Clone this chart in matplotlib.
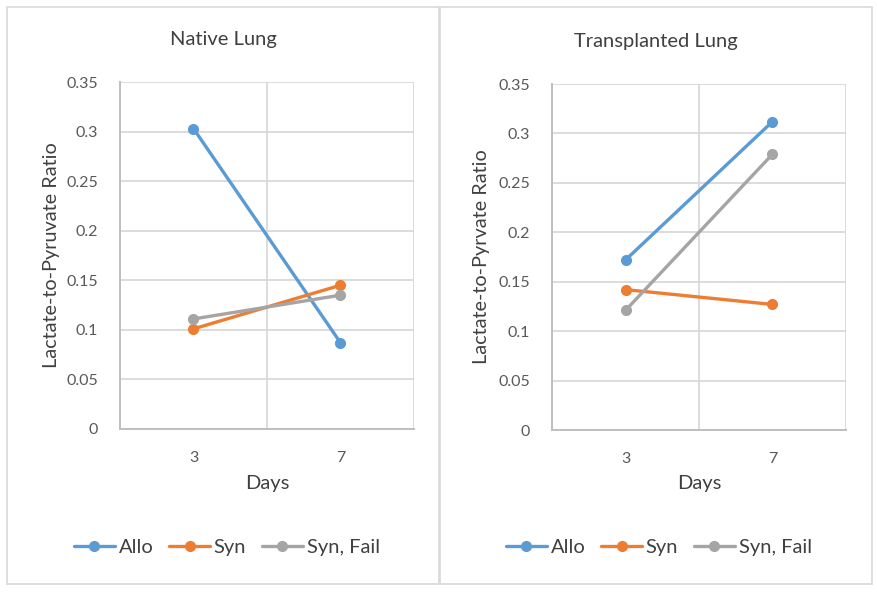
import matplotlib
matplotlib.use("Agg")
import matplotlib.pyplot as plt
from matplotlib.patches import Rectangle

plt.rcParams['font.family'] = ['Lato', 'DejaVu Sans']

days = ["3", "7"]
series_names = ["Allo", "Syn", "Syn, Fail"]
native_allo = [0.303, 0.087]
native_syn = [0.101, 0.145]
native_synfail = [0.111, 0.135]
trans_allo = [0.172, 0.312]
trans_syn = [0.142, 0.127]
trans_synfail = [0.121, 0.279]
y_ticks = [0, 0.05, 0.1, 0.15, 0.2, 0.25, 0.3, 0.35]
y_tick_labels = ["0", "0.05", "0.1", "0.15", "0.2", "0.25", "0.3", "0.35"]

colors = ["#5B9BD5", "#ED7D31", "#A5A5A5"]
W, H = 878, 592
fig = plt.figure(figsize=(W / 100, H / 100), dpi=100)

def px_axes(x0, y0, x1, y1):
    return fig.add_axes([x0 / W, (H - y1) / H, (x1 - x0) / W, (y1 - y0) / H])

# panel borders
for (bx0, bx1) in [(7, 439), (440, 872)]:
    fig.patches.append(Rectangle((bx0 / W, (H - 584) / H), (bx1 - bx0) / W, (584 - 7) / H,
                                 transform=fig.transFigure, fill=False,
                                 edgecolor="#D9D9D9", linewidth=1.2))

panels = [
    dict(box=(120, 82, 414, 429), title="Native Lung", tx=223, ty=40,
         ylabel="Lactate-to-Pyruvate Ratio", ylx=52, lx=227,
         data=[native_allo, native_syn, native_synfail]),
    dict(box=(552, 84, 846, 430), title="Transplanted Lung", tx=656, ty=42,
         ylabel="Lactate-to-Pyrvate Ratio", ylx=482, lx=659,
         data=[trans_allo, trans_syn, trans_synfail]),
]

textc = "#404040"
tickc = "#595959"
for p in panels:
    ax = px_axes(*p["box"])
    xs = list(range(1, len(days) + 1))
    for name, vals, c in zip(series_names, p["data"], colors):
        ax.plot(xs, vals, color=c, linewidth=2.4, marker="o", markersize=7,
                label=name, solid_capstyle="round", zorder=3)
    ax.set_xlim(0.5, len(days) + 0.5)
    ax.set_ylim(0, 0.35)
    ax.set_yticks(y_ticks)
    ax.set_yticklabels(y_tick_labels)
    ax.set_xticks(xs)
    ax.set_xticklabels(days)
    ax.set_xticks([0.5, 1.5, 2.5], minor=True)
    ax.grid(True, axis="y", color="#D9D9D9", linewidth=1.3, zorder=0)
    ax.grid(True, axis="x", which="minor", color="#D9D9D9", linewidth=1.3, zorder=0)
    ax.grid(False, axis="x", which="major")
    ax.tick_params(axis="both", which="both", length=0, labelsize=11.5, labelcolor=tickc)
    ax.tick_params(axis="y", pad=16)
    ax.tick_params(axis="x", pad=16)
    for s in ["top", "right"]:
        ax.spines[s].set_visible(False)
    for s in ["left", "bottom"]:
        ax.spines[s].set_color("#BFBFBF")
        ax.spines[s].set_linewidth(1.4)
    ax.set_axisbelow(True)
    fig.text(p["tx"] / W, (H - p["ty"]) / H, p["title"], ha="center", va="center",
             fontsize=14.5, color=textc)
    cx = (p["box"][0] + p["box"][2]) / 2
    fig.text(cx / W, (H - 483) / H, "Days", ha="center", va="center", fontsize=14.5, color=textc)
    fig.text(p["ylx"] / W, (H - (p["box"][1] + p["box"][3]) / 2) / H, p["ylabel"],
             ha="center", va="center", rotation=90, fontsize=14.3, color=textc)
    ax.legend(loc="center", bbox_to_anchor=(p["lx"] / W, (H - 547) / H),
              bbox_transform=fig.transFigure, ncol=3, frameon=False, fontsize=14.5,
              handlelength=2.0, columnspacing=0.8, handletextpad=0.2, labelcolor=textc)

fig.savefig("out.png", dpi=100, facecolor="white")
